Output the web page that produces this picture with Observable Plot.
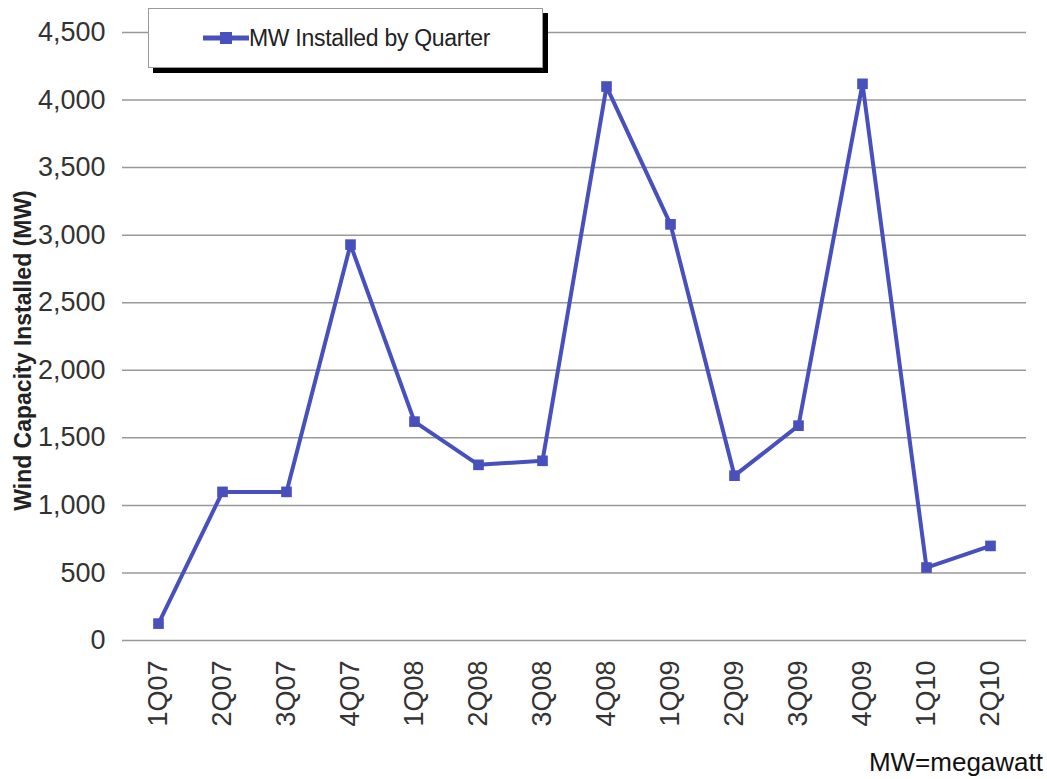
<!DOCTYPE html>
<html>
<head>
<meta charset="utf-8">
<script src="https://cdn.jsdelivr.net/npm/d3@7"></script>
<script src="https://cdn.jsdelivr.net/npm/@observablehq/plot@0.6"></script>
<style>
  html, body { margin: 0; padding: 0; background: #fff; }
  #wrap { position: relative; width: 1047px; height: 779px; font-family: "Liberation Sans", Arial, sans-serif; }
  #legend { position: absolute; left: 148px; top: 8px; width: 393px; height: 58px; background: #fff;
            border: 1px solid #9a9a9a; box-shadow: 5px 5px 0 #000; display: flex; align-items: center; }
  #legend span { font-size: 23px; color: #222; letter-spacing: -0.3px; }
  #caption { position: absolute; right: 4px; top: 747px; font-size: 26px; color: #111; }
</style>
</head>
<body>
<div id="wrap">
  <div id="chart"></div>
  <div id="legend"><svg width="46" height="30" style="margin-left:54px"><line x1="0" y1="15" x2="46" y2="15" stroke="#4750bc" stroke-width="5"/><rect x="17" y="9" width="12" height="12" fill="#4750bc"/></svg><span>MW Installed by Quarter</span></div>
  <div id="caption">MW=megawatt</div>
</div>
<script>
const quarters = ["1Q07","2Q07","3Q07","4Q07","1Q08","2Q08","3Q08","4Q08","1Q09","2Q09","3Q09","4Q09","1Q10","2Q10"];
const mwInstalled = [125, 1100, 1100, 2930, 1620, 1300, 1330, 4100, 3080, 1220, 1590, 4120, 540, 700];
const yTicks = [0, 500, 1000, 1500, 2000, 2500, 3000, 3500, 4000, 4500];
const yTitle = "Wind Capacity Installed (MW)";

const data = quarters.map((q, i) => ({q, v: mwInstalled[i]}));
const color = "#4750bc";

const chart = Plot.plot({
  width: 1047,
  height: 779,
  marginLeft: 122,
  marginRight: 21,
  marginTop: 32,
  marginBottom: 139,
  style: {fontFamily: "Liberation Sans, Arial, sans-serif", fontSize: "26px", color: "#333", background: "#fff"},
  x: {type: "point", domain: quarters, padding: 0.5},
  y: {domain: [0, 4500]},
  marks: [
    Plot.ruleY(yTicks, {stroke: "#999", strokeWidth: 1.5}),
    Plot.axisY({ticks: yTicks, tickSize: 0, tickPadding: 17, tickFormat: d3.format(","), label: null, fontSize: 27}),
    Plot.axisX({tickSize: 0, tickPadding: 20, tickRotate: -90, label: null, fontSize: 27}),
    Plot.text([yTitle], {frameAnchor: "left", dx: -99, dy: 14, rotate: -90, textAnchor: "middle", fontWeight: "bold", fontSize: 23, fill: "#222"}),
    Plot.line(data, {x: "q", y: "v", stroke: color, strokeWidth: 4}),
    Plot.dot(data, {x: "q", y: "v", symbol: "square", r: 6, fill: color, stroke: "none"})
  ]
});
document.getElementById("chart").appendChild(chart);
</script>
</body>
</html>
